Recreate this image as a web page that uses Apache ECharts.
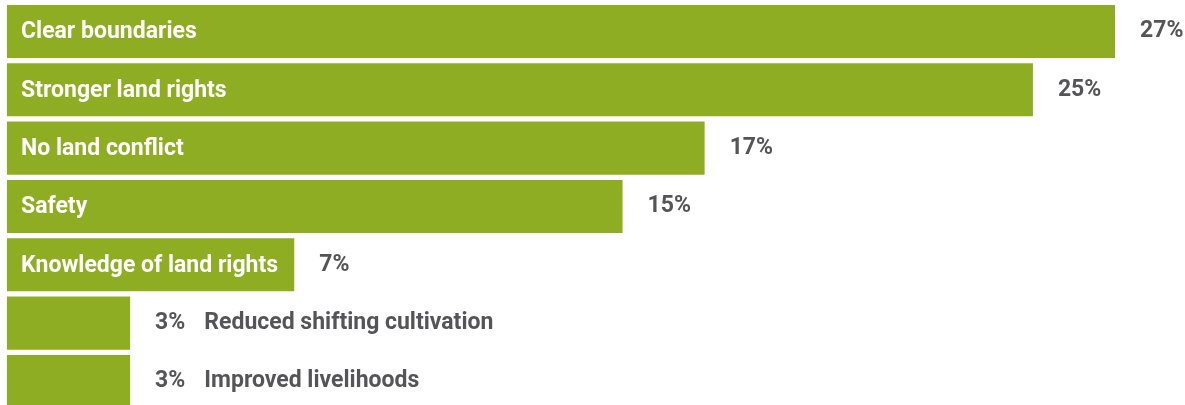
<!DOCTYPE html>
<html>
<head>
<meta charset="utf-8">
<script src="https://cdn.jsdelivr.net/npm/echarts@6/dist/echarts.min.js"></script>
<style>
  html, body { margin: 0; padding: 0; background: #ffffff; }
  #chart { width: 1185px; height: 405px; }
</style>
</head>
<body>
<div id="chart"></div>
<script>
// Share of respondents naming each benefit
const categories = [
  'Clear boundaries',
  'Stronger land rights',
  'No land conflict',
  'Safety',
  'Knowledge of land rights',
  'Reduced shifting cultivation',
  'Improved livelihoods'
];
const values = [27, 25, 17, 15, 7, 3, 3];

const FONT = 'Roboto, "Liberation Sans", sans-serif';
const WEIGHT = 'bold';
const GREEN = '#8fad23';
const GREY = '#555557';
// bars too short to hold their name carry it after the percentage instead
const MIN_INSIDE = 5;

const chart = echarts.init(document.getElementById('chart'), null, { renderer: 'canvas' });

chart.setOption({
  animation: false,
  grid: { left: 7, top: 2.3, width: 1108, height: 408.3, outerBoundsMode: 'none' },
  xAxis: { type: 'value', min: 0, max: 27, show: false },
  yAxis: {
    type: 'category', data: categories, inverse: true,
    axisLine: { show: false }, axisTick: { show: false }, axisLabel: { show: false }
  },
  series: [
    {
      type: 'bar',
      data: values,
      barCategoryGap: '9%',
      itemStyle: { color: GREEN },
      label: {
        show: true,
        position: 'right',
        distance: 25,
        offset: [0, 0],
        fontFamily: FONT,
        fontWeight: WEIGHT,
        fontSize: 23,
        color: GREY,
        formatter: p => p.value >= MIN_INSIDE
          ? '{v|' + p.value + '%}'
          : '{v|' + p.value + '%}{n|' + p.name + '}',
        rich: {
          v: { fontFamily: FONT, fontWeight: WEIGHT, fontSize: 23, color: GREY },
          n: { fontFamily: FONT, fontWeight: WEIGHT, fontSize: 23, color: GREY, padding: [0, 0, 0, 19] }
        }
      }
    },
    {
      type: 'bar',
      data: values,
      barGap: '-100%',
      barCategoryGap: '9%',
      silent: true,
      itemStyle: { color: 'rgba(0,0,0,0)' },
      label: {
        show: true,
        position: 'insideLeft',
        distance: 14,
        offset: [0, 1],
        fontFamily: FONT,
        fontWeight: WEIGHT,
        fontSize: 23,
        color: '#ffffff',
        formatter: p => p.value >= MIN_INSIDE ? p.name : ''
      }
    }
  ]
});
</script>
</body>
</html>
